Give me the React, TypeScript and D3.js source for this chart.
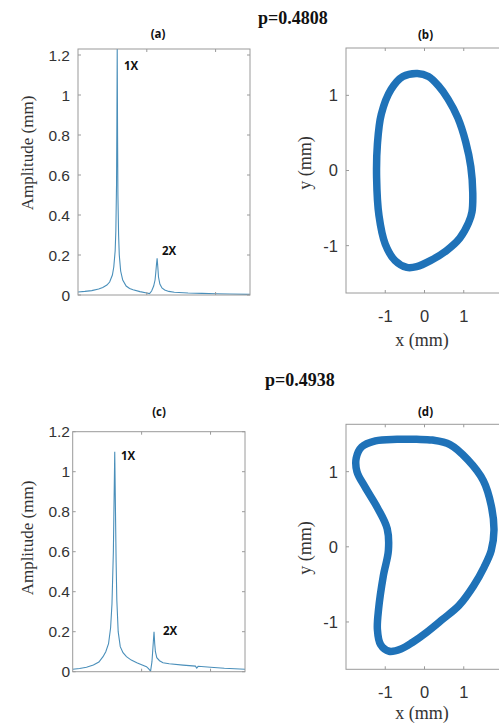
import React from 'react';
import * as d3 from 'd3';

// ---- data ----
const freqA = [0, 0.1, 0.2, 0.3, 0.36, 0.42, 0.46, 0.5, 0.52, 0.54, 0.55, 0.56, 0.565, 0.57, 0.575, 0.58, 0.59, 0.6, 0.62, 0.65, 0.7, 0.75, 0.8, 0.9, 1.0, 1.04, 1.07, 1.1, 1.12, 1.13, 1.14, 1.15, 1.16, 1.17, 1.19, 1.22, 1.26, 1.32, 1.4, 1.6, 1.8, 2.0, 2.2, 2.5];
const ampA = [0.015, 0.018, 0.022, 0.03, 0.038, 0.05, 0.065, 0.1, 0.14, 0.22, 0.32, 0.55, 0.85, 1.23, 0.8, 0.5, 0.3, 0.2, 0.12, 0.075, 0.045, 0.033, 0.026, 0.017, 0.01, 0.007, 0.02, 0.045, 0.075, 0.11, 0.15, 0.183, 0.14, 0.09, 0.055, 0.035, 0.025, 0.018, 0.014, 0.01, 0.008, 0.006, 0.005, 0.003];

const freqC = [0, 0.1, 0.2, 0.3, 0.38, 0.44, 0.48, 0.52, 0.55, 0.57, 0.59, 0.6, 0.61, 0.62, 0.63, 0.64, 0.66, 0.69, 0.73, 0.78, 0.85, 0.93, 1.0, 1.07, 1.1, 1.13, 1.15, 1.16, 1.17, 1.18, 1.19, 1.2, 1.22, 1.26, 1.31, 1.4, 1.6, 1.78, 1.8, 1.82, 2.0, 2.2, 2.5];
const ampC = [0.012, 0.016, 0.022, 0.033, 0.048, 0.075, 0.1, 0.14, 0.22, 0.34, 0.6, 0.85, 1.1, 0.82, 0.55, 0.36, 0.2, 0.125, 0.095, 0.075, 0.058, 0.045, 0.035, 0.025, 0.015, 0.003, 0.05, 0.1, 0.15, 0.2, 0.14, 0.1, 0.07, 0.055, 0.045, 0.04, 0.033, 0.028, 0.018, 0.027, 0.022, 0.017, 0.012];

const orbitBX = [-0.18, 0.1, 0.35, 0.6, 0.85, 1.05, 1.18, 1.23, 1.21, 1.12, 0.9, 0.55, 0.15, -0.2, -0.45, -0.75, -1.0, -1.16, -1.22, -1.2, -1.1, -0.85, -0.55];
const orbitBY = [1.29, 1.25, 1.13, 0.95, 0.7, 0.38, 0.05, -0.3, -0.55, -0.7, -0.9, -1.07, -1.2, -1.28, -1.29, -1.2, -0.98, -0.6, -0.1, 0.35, 0.75, 1.08, 1.25];

const orbitDX = [0.2, 0.65, 1.1, 1.5, 1.7, 1.77, 1.7, 1.52, 1.25, 0.88, 0.45, 0.05, -0.3, -0.6, -0.9, -1.12, -1.2, -1.17, -1.05, -0.92, -0.95, -1.2, -1.52, -1.72, -1.74, -1.6, -1.25, -0.7, -0.2];
const orbitDY = [1.42, 1.36, 1.16, 0.88, 0.55, 0.22, -0.05, -0.27, -0.52, -0.78, -0.97, -1.14, -1.27, -1.36, -1.39, -1.3, -1.1, -0.83, -0.39, -0.05, 0.24, 0.52, 0.8, 1.0, 1.18, 1.33, 1.41, 1.43, 1.43];

const ampTicks = [0, 0.2, 0.4, 0.6, 0.8, 1, 1.2];
const freqTicks = [1, 2];
const orbitTicks = [-1, 0, 1];
const rowTitles = ['p=0.4808', 'p=0.4938'];
const panelNames = ['(a)', '(b)', '(c)', '(d)'];
const peakNames = ['1X', '2X'];

const BOX = '#9a9a9a';
const TICKTXT = '#333';
const SPEC = '#4a8fba';
const ORBIT = '#1f72b8';
const SANS = 'Liberation Sans, Arial, sans-serif';
const SERIF = 'Liberation Serif, Times New Roman, serif';
const BOLDSANS = 'Open Sans, Liberation Sans, sans-serif';

function fmt(v: number) {
  return String(v);
}

function Spectrum({ id, x0, x1, y0, y1, yMax, freq, amp, name, nameX, nameY, labelY, peaks }: any) {
  const x = d3.scaleLinear().domain([0, 2.5]).range([x0, x1]);
  const y = d3.scaleLinear().domain([0, yMax]).range([y1, y0]);
  const line = d3.line<number>().x((_, i) => x(freq[i])).y((d) => y(d));
  return (
    <g>
      <defs>
        <clipPath id={id}>
          <rect x={x0} y={y0 - 1} width={x1 - x0} height={y1 - y0 + 1} />
        </clipPath>
      </defs>
      <path d={line(amp) || ''} fill="none" stroke={SPEC} strokeWidth={1.1} clipPath={`url(#${id})`} />
      <rect x={x0} y={y0} width={x1 - x0} height={y1 - y0} fill="none" stroke={BOX} strokeWidth={1} />
      {ampTicks.map((t) => (
        <g key={'y' + t}>
          <line x1={x0} x2={x0 + 3} y1={y(t)} y2={y(t)} stroke={BOX} />
          <line x1={x1} x2={x1 - 3} y1={y(t)} y2={y(t)} stroke={BOX} />
          <text x={70} y={y(t)} dy="0.36em" textAnchor="end" fontFamily={SANS} fontSize={15.5} fill={TICKTXT}>
            {fmt(t)}
          </text>
        </g>
      ))}
      {freqTicks.map((t) => (
        <g key={'x' + t}>
          <line x1={x(t)} x2={x(t)} y1={y1} y2={y1 - 3} stroke={BOX} />
          <line x1={x(t)} x2={x(t)} y1={y0} y2={y0 + 3} stroke={BOX} />
        </g>
      ))}
      <text x={nameX} y={nameY} textAnchor="middle" fontFamily={BOLDSANS} fontWeight="bold" fontSize={11.5} fill="#111">
        {name}
      </text>
      <text transform={`translate(33,${labelY}) rotate(-90)`} textAnchor="middle" fontFamily={SERIF} fontSize={17} fill={TICKTXT}>
        Amplitude (mm)
      </text>
      {peaks.map((p: any, i: number) => (
        <text key={i} x={p[0]} y={p[1]} fontFamily={BOLDSANS} fontWeight="bold" fontSize={11.5} fill="#111">
          {peakNames[i]}
        </text>
      ))}
    </g>
  );
}

function Orbit({ id, x0, x1, y0, y1, xs, ys, name, nameY, tickY, xLabY, yLabY }: any) {
  const x = d3.scaleLinear().domain([-2, 2]).range([x0, x1]);
  const y = d3.scaleLinear().domain([-1.63, 1.63]).range([y1, y0]);
  const line = d3
    .line<number>()
    .x((d) => x(d))
    .y((_, i) => y(ys[i]))
    .curve(d3.curveCatmullRomClosed.alpha(0.5));
  return (
    <g>
      <defs>
        <clipPath id={id}>
          <rect x={x0} y={y0} width={x1 - x0} height={y1 - y0} />
        </clipPath>
      </defs>
      <path d={line(xs) || ''} fill="none" stroke={ORBIT} strokeWidth={7.5} strokeLinejoin="round" clipPath={`url(#${id})`} />
      <rect x={x0} y={y0} width={x1 - x0} height={y1 - y0} fill="none" stroke={BOX} strokeWidth={1} />
      {orbitTicks.map((t) => (
        <g key={'t' + t}>
          <line x1={x0} x2={x0 + 3} y1={y(t)} y2={y(t)} stroke={BOX} />
          <line x1={x(t)} x2={x(t)} y1={y1} y2={y1 - 3} stroke={BOX} />
          <line x1={x(t)} x2={x(t)} y1={y0} y2={y0 + 3} stroke={BOX} />
          <text x={338} y={y(t)} dy="0.36em" textAnchor="end" fontFamily={SANS} fontSize={16.5} fill={TICKTXT}>
            {fmt(t)}
          </text>
          <text x={x(t)} y={tickY} textAnchor="middle" fontFamily={SANS} fontSize={16.5} fill={TICKTXT}>
            {fmt(t)}
          </text>
        </g>
      ))}
      <text x={(x0 + x(2)) / 2 + 1} y={nameY} textAnchor="middle" fontFamily={BOLDSANS} fontWeight="bold" fontSize={11.5} fill="#111">
        {name}
      </text>
      <text x={422} y={xLabY} textAnchor="middle" fontFamily={SERIF} fontSize={18} fill={TICKTXT}>
        x (mm)
      </text>
      <text transform={`translate(311,${yLabY}) rotate(-90)`} textAnchor="middle" fontFamily={SERIF} fontSize={18} fill={TICKTXT}>
        y (mm)
      </text>
    </g>
  );
}

export default function App() {
  return (
    <svg
      width={499}
      height={727}
      style={{ position: 'absolute', left: 0, top: 0, background: '#fff' }}
    >
      <rect x={0} y={0} width={499} height={727} fill="#fff" />
      <text x={258} y={24} fontFamily={SERIF} fontWeight="bold" fontSize={18} fill="#111">
        {rowTitles[0]}
      </text>
      <text x={265} y={386} fontFamily={SERIF} fontWeight="bold" fontSize={18} fill="#111">
        {rowTitles[1]}
      </text>
      <Spectrum
        id="clipA"
        x0={78}
        x1={250}
        y0={49}
        y1={295}
        yMax={1.23}
        freq={freqA}
        amp={ampA}
        name={panelNames[0]}
        nameX={158}
        nameY={38}
        labelY={153}
        peaks={[[124, 70], [162, 255]]}
      />
      <Spectrum
        id="clipC"
        x0={72.7}
        x1={245}
        y0={431.7}
        y1={671.7}
        yMax={1.2}
        freq={freqC}
        amp={ampC}
        name={panelNames[2]}
        nameX={159}
        nameY={416}
        labelY={538}
        peaks={[[121, 460], [163, 635]]}
      />
      <Orbit
        id="clipB"
        x0={346}
        x1={503}
        y0={48}
        y1={293}
        xs={orbitBX}
        ys={orbitBY}
        name={panelNames[1]}
        nameY={39}
        tickY={322}
        xLabY={346}
        yLabY={163}
      />
      <Orbit
        id="clipD"
        x0={346}
        x1={503}
        y0={424.3}
        y1={669.3}
        xs={orbitDX}
        ys={orbitDY}
        name={panelNames[3]}
        nameY={416}
        tickY={698}
        xLabY={719}
        yLabY={548}
      />
    </svg>
  );
}
